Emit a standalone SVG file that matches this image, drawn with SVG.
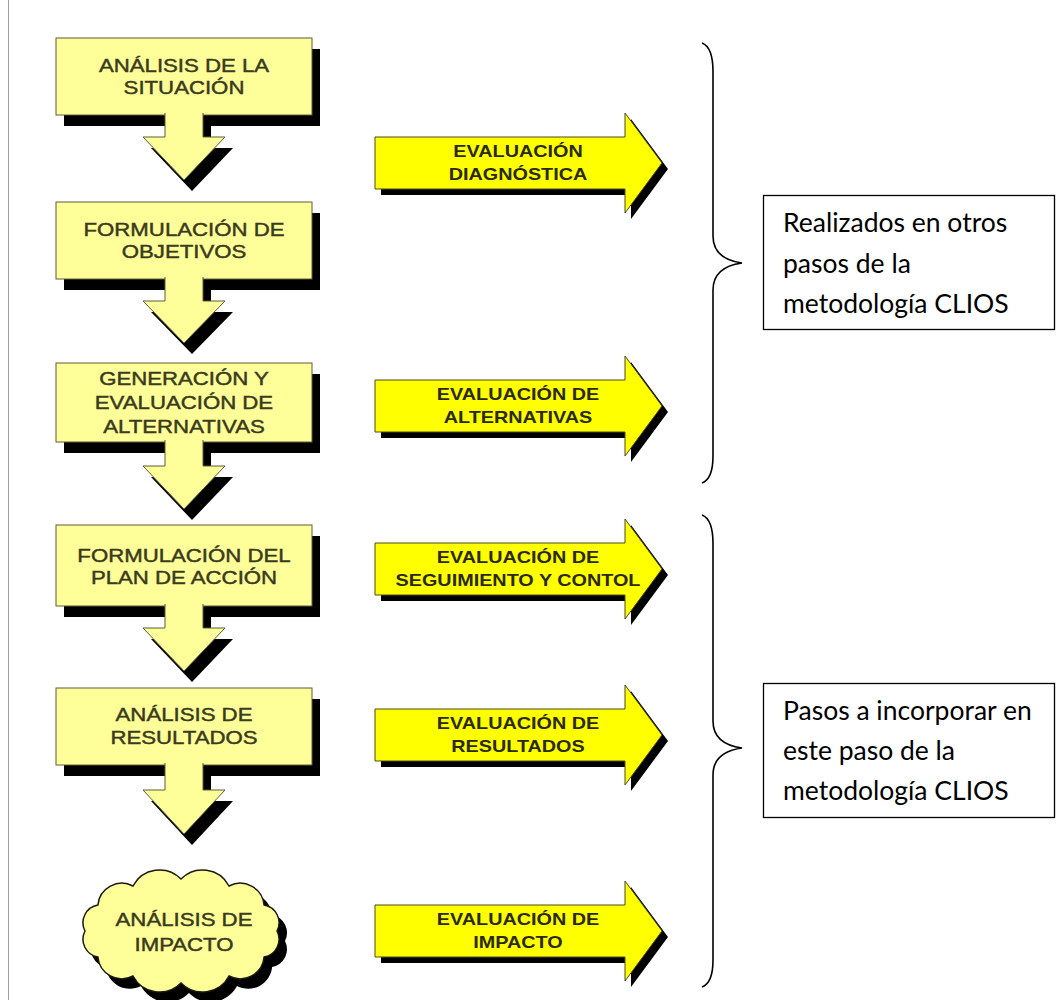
<svg xmlns="http://www.w3.org/2000/svg" width="1056" height="1000" viewBox="0 0 1056 1000">
  <defs>
    <style>
      .step { fill: #FFFF99; stroke: #5c5c3a; stroke-width: 1; stroke-linejoin: miter; }
      .cloud { fill: #FFFF99; stroke: #1a1a10; stroke-width: 1.5; }
      .shadow { fill: #000; stroke: none; }
      .eval { fill: #FFFF00; stroke: #4a4a20; stroke-width: 1; stroke-linejoin: miter; }
      .step-text { font-family: "Liberation Sans", Arial, sans-serif; font-size: 18.5px; fill: #3a3a1c; stroke: #3a3a1c; stroke-width: 0.45; text-anchor: middle; }
      .eval-text { font-family: "Liberation Sans", Arial, sans-serif; font-size: 16.5px; font-weight: bold; fill: #2a2a08; text-anchor: middle; }
      .note-box { fill: #fff; stroke: #000; stroke-width: 1.3; }
      .note-text { font-family: Lato, "Open Sans", sans-serif; font-size: 26.5px; fill: #000; }
      .brace { fill: none; stroke: #000; stroke-width: 1.6; }
      .step-arrow { fill: #FFFF99; stroke: #5c5c3a; stroke-width: 1; stroke-linejoin: miter; }
    </style>
    <path id="cloud-outline" d="M85,931 A18,18 0 0 1 97.9,905 A24,24 0 0 1 133,886 A30,30 0 0 1 181,879 A30,30 0 0 1 229,886 A24,24 0 0 1 264.1,905 A18,18 0 0 1 277,931 A18,18 0 0 1 264.1,957 A24,24 0 0 1 229,976 A30,30 0 0 1 181,983 A30,30 0 0 1 133,976 A24,24 0 0 1 97.9,957 A18,18 0 0 1 85,931 Z"/>
  </defs>

  <rect width="1056" height="1000" fill="#fff"/>
  <!-- page margin rule -->
  <line x1="8.5" y1="0" x2="8.5" y2="1000" stroke="#a0a0a0" stroke-width="1"/>

  <!-- process steps (left column) -->
  <g id="step-analisis-situacion">
    <rect class="shadow" x="64" y="49" width="256" height="77"/>
    <rect class="step" x="56" y="38" width="256" height="77"/>
    <g transform="translate(184 0) scale(1.2 1)">
      <text class="step-text" x="0" y="72.5">ANÁLISIS DE LA</text>
      <text class="step-text" x="0" y="94.5">SITUACIÓN</text>
    </g>
  </g>

  <g id="step-formulacion-objetivos">
    <rect class="shadow" x="64" y="213" width="256" height="77"/>
    <rect class="step" x="56" y="202" width="256" height="77"/>
    <g transform="translate(184 0) scale(1.2 1)">
      <text class="step-text" x="0" y="236">FORMULACIÓN DE</text>
      <text class="step-text" x="0" y="258">OBJETIVOS</text>
    </g>
  </g>

  <g id="step-generacion-alternativas">
    <rect class="shadow" x="64" y="374" width="256" height="79"/>
    <rect class="step" x="56" y="363" width="256" height="79"/>
    <g transform="translate(184 0) scale(1.2 1)">
      <text class="step-text" x="0" y="385">GENERACIÓN Y</text>
      <text class="step-text" x="0" y="409">EVALUACIÓN DE</text>
      <text class="step-text" x="0" y="433">ALTERNATIVAS</text>
    </g>
  </g>

  <g id="step-plan-accion">
    <rect class="shadow" x="64" y="536" width="256" height="81"/>
    <rect class="step" x="56" y="525" width="256" height="81"/>
    <g transform="translate(184 0) scale(1.2 1)">
      <text class="step-text" x="0" y="562">FORMULACIÓN DEL</text>
      <text class="step-text" x="0" y="584">PLAN DE ACCIÓN</text>
    </g>
  </g>

  <g id="step-analisis-resultados">
    <rect class="shadow" x="64" y="699" width="256" height="77"/>
    <rect class="step" x="56" y="688" width="256" height="77"/>
    <g transform="translate(184 0) scale(1.2 1)">
      <text class="step-text" x="0" y="721">ANÁLISIS DE</text>
      <text class="step-text" x="0" y="744">RESULTADOS</text>
    </g>
  </g>

  <g id="step-analisis-impacto">
    <use href="#cloud-outline" class="shadow" transform="translate(8 10)"/>
    <use href="#cloud-outline" class="cloud"/>
    <g transform="translate(184 0) scale(1.2 1)">
      <text class="step-text" x="0" y="926">ANÁLISIS DE</text>
      <text class="step-text" x="0" y="951">IMPACTO</text>
    </g>
  </g>

  <!-- evaluation block arrows (middle column) -->
  <g id="eval-diagnostica">
    <path class="shadow" transform="translate(6 6)" d="M375,137 H625 V113 L662,163 L625,213 V189 H375 Z"/>
    <path class="eval" d="M375,137 H625 V113 L662,163 L625,213 V189 H375 Z"/>
    <g transform="translate(518 0) scale(1.2 1)">
      <text class="eval-text" x="0" y="157">EVALUACIÓN</text>
      <text class="eval-text" x="0" y="180">DIAGNÓSTICA</text>
    </g>
  </g>

  <g id="eval-alternativas">
    <path class="shadow" transform="translate(6 6)" d="M375,380 H625 V356 L662,406 L625,456 V432 H375 Z"/>
    <path class="eval" d="M375,380 H625 V356 L662,406 L625,456 V432 H375 Z"/>
    <g transform="translate(518 0) scale(1.2 1)">
      <text class="eval-text" x="0" y="400">EVALUACIÓN DE</text>
      <text class="eval-text" x="0" y="423">ALTERNATIVAS</text>
    </g>
  </g>

  <g id="eval-seguimiento">
    <path class="shadow" transform="translate(6 6)" d="M375,543 H625 V519 L662,569 L625,619 V595 H375 Z"/>
    <path class="eval" d="M375,543 H625 V519 L662,569 L625,619 V595 H375 Z"/>
    <g transform="translate(518 0) scale(1.2 1)">
      <text class="eval-text" x="0" y="563">EVALUACIÓN DE</text>
      <text class="eval-text" x="0" y="586">SEGUIMIENTO Y CONTOL</text>
    </g>
  </g>

  <g id="eval-resultados">
    <path class="shadow" transform="translate(6 6)" d="M375,709 H625 V685 L662,735 L625,785 V761 H375 Z"/>
    <path class="eval" d="M375,709 H625 V685 L662,735 L625,785 V761 H375 Z"/>
    <g transform="translate(518 0) scale(1.2 1)">
      <text class="eval-text" x="0" y="729">EVALUACIÓN DE</text>
      <text class="eval-text" x="0" y="752">RESULTADOS</text>
    </g>
  </g>

  <g id="eval-impacto">
    <path class="shadow" transform="translate(6 6)" d="M375,905 H625 V881 L662,931 L625,981 V957 H375 Z"/>
    <path class="eval" d="M375,905 H625 V881 L662,931 L625,981 V957 H375 Z"/>
    <g transform="translate(518 0) scale(1.2 1)">
      <text class="eval-text" x="0" y="925">EVALUACIÓN DE</text>
      <text class="eval-text" x="0" y="948">IMPACTO</text>
    </g>
  </g>

  <!-- flow arrows between steps (open at the top so they merge with the box) -->
  <g id="connectors">
    <g id="flow-1">
      <path class="shadow" transform="translate(8 11)" d="M165,113 V137 H143 L184,180 L225,137 H203 V113"/>
      <path class="step-arrow" d="M165,113 V137 H143 L184,180 L225,137 H203 V113"/>
    </g>
    <g id="flow-2">
      <path class="shadow" transform="translate(8 11)" d="M165,277 V301 H143 L184,343 L225,301 H203 V277"/>
      <path class="step-arrow" d="M165,277 V301 H143 L184,343 L225,301 H203 V277"/>
    </g>
    <g id="flow-3">
      <path class="shadow" transform="translate(8 11)" d="M165,440 V466 H143 L184,509 L225,466 H203 V440"/>
      <path class="step-arrow" d="M165,440 V466 H143 L184,509 L225,466 H203 V440"/>
    </g>
    <g id="flow-4">
      <path class="shadow" transform="translate(8 11)" d="M165,604 V628 H143 L184,671 L225,628 H203 V604"/>
      <path class="step-arrow" d="M165,604 V628 H143 L184,671 L225,628 H203 V604"/>
    </g>
    <g id="flow-5">
      <path class="shadow" transform="translate(8 11)" d="M165,763 V790 H143 L184,834 L225,790 H203 V763"/>
      <path class="step-arrow" d="M165,763 V790 H143 L184,834 L225,790 H203 V763"/>
    </g>
  </g>

  <!-- grouping braces and notes (right column) -->
  <g id="brace-upper">
    <path class="brace" d="M702,43 Q713,47 713,72 L713,236 Q713,259 742,263 Q713,267 713,290 L713,456 Q713,479 702,483"/>
  </g>
  <g id="note-realizados">
    <rect class="note-box" x="763.5" y="195.5" width="291" height="134"/>
    <text class="note-text" x="783" y="232">Realizados en otros</text>
    <text class="note-text" x="783" y="273">pasos de la</text>
    <text class="note-text" x="783" y="313">metodología CLIOS</text>
  </g>

  <g id="brace-lower">
    <path class="brace" d="M702,515 Q713,519 713,544 L713,721 Q713,744 742,748 Q713,752 713,775 L713,960 Q713,983 702,987"/>
  </g>
  <g id="note-pasos">
    <rect class="note-box" x="763.5" y="683.5" width="291" height="134"/>
    <text class="note-text" x="783" y="720">Pasos a incorporar en</text>
    <text class="note-text" x="783" y="760">este paso de la</text>
    <text class="note-text" x="783" y="800">metodología CLIOS</text>
  </g>
</svg>
